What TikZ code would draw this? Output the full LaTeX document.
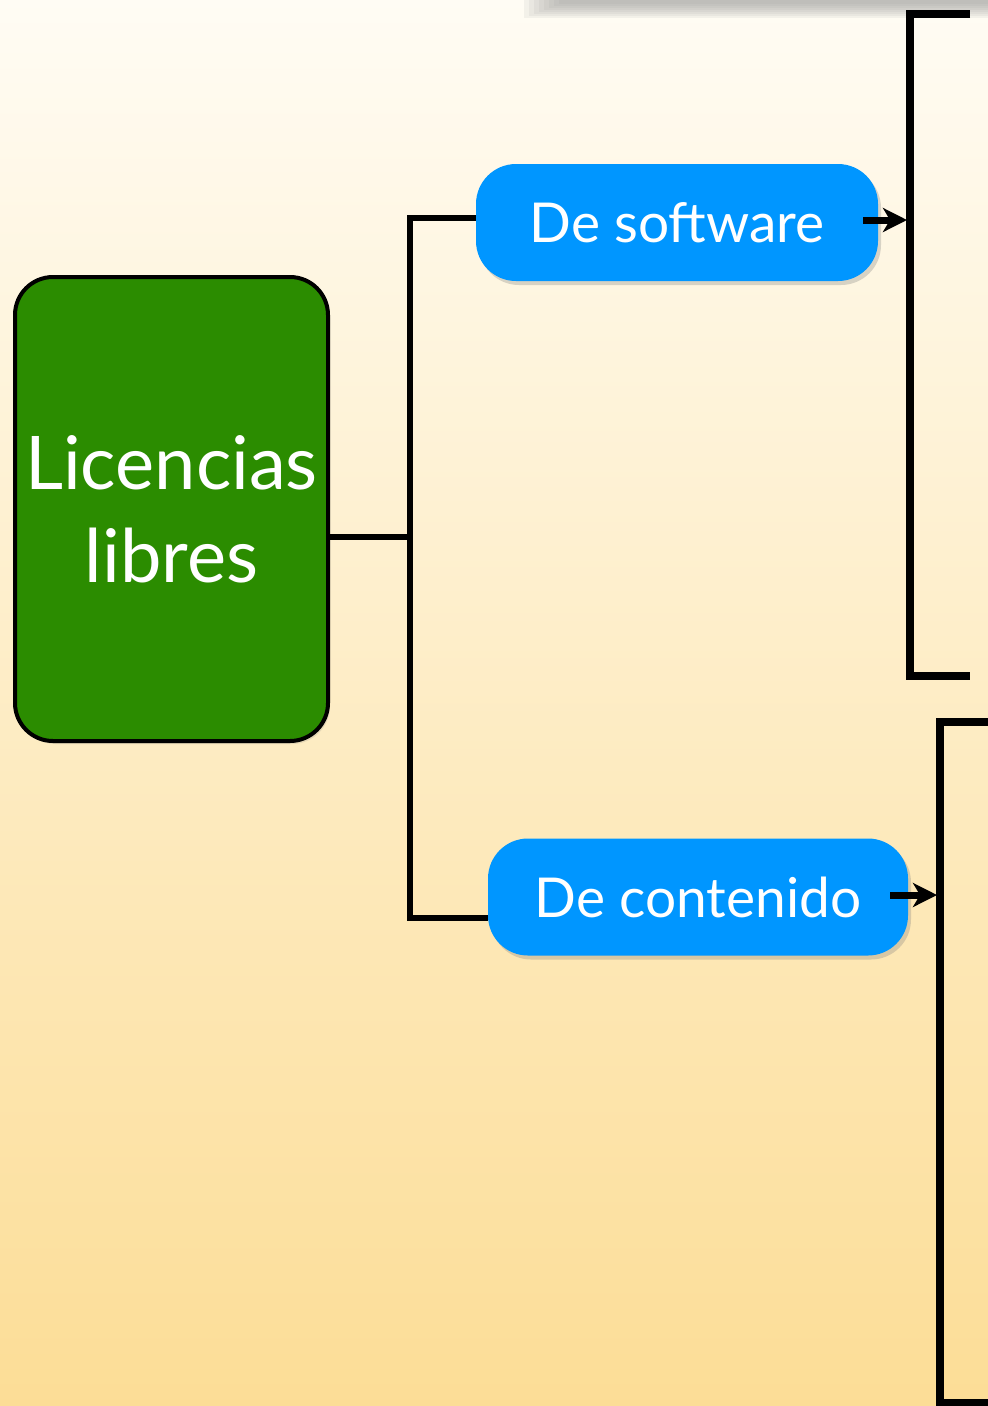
\documentclass[tikz,border=0pt]{standalone}
\usepackage{fontspec}
\setmainfont{Lato}
\usepackage{tikz}
\usetikzlibrary{arrows.meta,shadows,positioning}

\definecolor{bgtop}{RGB}{255,252,244}
\definecolor{bgbot}{RGB}{252,221,150}
\definecolor{licgreen}{RGB}{43,140,0}
\definecolor{kindblue}{RGB}{0,150,255}

\begin{document}
\begin{tikzpicture}[x=1pt,y=-1pt,line join=miter]
    \tikzstyle{licbox}=[draw=black, line width=4pt, fill=licgreen, rounded corners=38pt,
      minimum width=313pt, minimum height=464pt, inner sep=0pt, text=white, align=center,
      font=\fontsize{74}{93}\selectfont,
      drop shadow={shadow xshift=2pt, shadow yshift=-3pt, opacity=0.2}]
    \tikzstyle{kindbox}=[fill=kindblue, rounded corners=40pt, minimum height=117pt,
      inner sep=0pt, text=white, font=\fontsize{55}{66}\selectfont,
      drop shadow={shadow xshift=3pt, shadow yshift=-4pt, opacity=0.3}]
    \tikzstyle{link}=[line width=6.5pt]
    \tikzstyle{bracket}=[line width=7.5pt]
    \tikzstyle{pointer}=[line width=7pt, -{Stealth[length=24pt,width=24pt,inset=7pt]}]

    % background
    \useasboundingbox (0,0) rectangle (988,1406);
    \fill[top color=bgtop, bottom color=bgbot] (0,0) rectangle (988,1406);
    \foreach \i in {0,...,7}
      \fill[black!40, opacity=0.11] (524+5*\i,0) rectangle (988,18-2*\i);

    \node[licbox]                      (lic)  at (171.5,509) {Licencias\\libres};
    \node[kindbox, minimum width=402pt] (soft) at (677,222.5) {De software};
    \node[kindbox, minimum width=420pt] (cont) at (698,897)   {De contenido};

    % tree links
    \coordinate (fork) at (410,537);
    \draw[link] (lic.east |- fork) -- (fork);
    \draw[link] ([yshift=4.5pt]soft.west) -| (fork) |- ([yshift=-21pt]cont.west);

    % brackets
    \coordinate (rim1) at (910,14);
    \coordinate (rim2) at (940,722);
    \draw[bracket] (970,14) -| (910,676) -- (970,676);
    \draw[bracket] (992,722) -| (940,1403) -- (992,1403);

    \draw[pointer] ([xshift=-15pt,yshift=2.5pt]soft.east) -- ([xshift=-3pt,yshift=2.5pt]soft.east -| rim1);
    \draw[pointer] ([xshift=-18pt,yshift=2pt]cont.east) -- ([xshift=-3pt,yshift=2pt]cont.east -| rim2);
\end{tikzpicture}
\end{document}
